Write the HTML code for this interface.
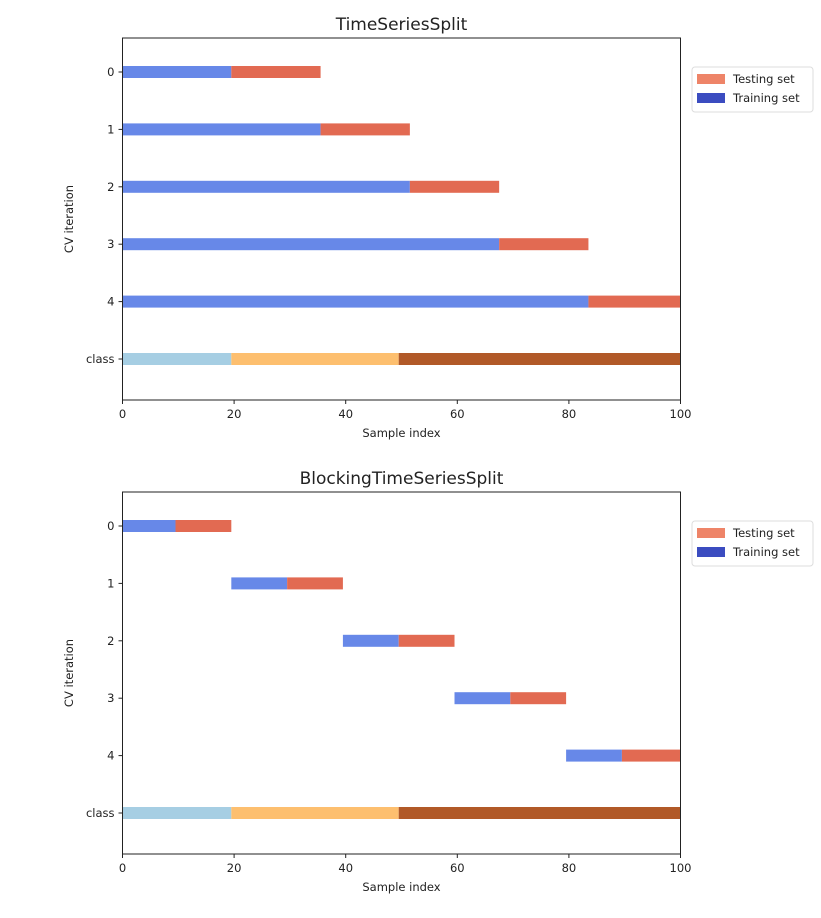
<!DOCTYPE html>
<html><head><meta charset="utf-8"><style>
body{margin:0;background:#fff;font-family:"DejaVu Sans","Liberation Sans",sans-serif}
text{font-family:"DejaVu Sans","Liberation Sans",sans-serif;fill:#222}
</style></head><body>
<svg id="s" width="821" height="914"></svg>
<script>
const rowLabels=["0","1","2","3","4","class"];
const xTicks=[0,20,40,60,80,100];
const topTrain=[[0,19.5],[0,35.5],[0,51.5],[0,67.5],[0,83.5]];
const topTest=[[19.5,35.5],[35.5,51.5],[51.5,67.5],[67.5,83.5],[83.5,100]];
const botTrain=[[0,9.5],[19.5,29.5],[39.5,49.5],[59.5,69.5],[79.5,89.5]];
const botTest=[[9.5,19.5],[29.5,39.5],[49.5,59.5],[69.5,79.5],[89.5,100]];
const classSegs=[[0,19.5],[19.5,49.5],[49.5,100]];
const classColors=["#a6cee3","#fdbf6f","#b15928"];
const NS="http://www.w3.org/2000/svg";
const svg=document.getElementById('s');
function el(t,a,p){const e=document.createElementNS(NS,t);for(const k in a)e.setAttribute(k,a[k]);(p||svg).appendChild(e);return e;}
function panel(title,top,train,test,pname){
  const g=el('g',{});
  
  
  const L=122.5,R=680.5,T=top,B=top+362;
  const x=v=>L+(R-L)*v/100;
  const y=i=>T+34+57.4*i;
  const bh=12;
  function bar(seg,i,c,n){const r=el('rect',{x:x(seg[0]),y:y(i)-bh/2,width:x(seg[1])-x(seg[0]),height:bh,fill:c},g);
    }
  train.forEach((s,i)=>bar(s,i,"#6788e8","train-bar-"+i));
  test.forEach((s,i)=>bar(s,i,"#e26a52","test-bar-"+i));
  classSegs.forEach((s,k)=>bar(s,5,classColors[k],"class-bar-"+k));
  const f=el('rect',{x:L,y:T,width:R-L,height:B-T,fill:'none',stroke:'#222','stroke-width':1},g);
  
  rowLabels.forEach((l,i)=>{el('line',{x1:L-4,x2:L,y1:y(i),y2:y(i),stroke:'#222'},g);
    const t=el('text',{x:L-8,y:y(i)+4,'text-anchor':'end','font-size':11.5},g);t.textContent=l;
    });
  xTicks.forEach(v=>{el('line',{x1:x(v),x2:x(v),y1:B,y2:B+4,stroke:'#222'},g);
    const t=el('text',{x:x(v),y:B+18,'text-anchor':'middle','font-size':11.5},g);t.textContent=v;
    });
  const tt=el('text',{x:(L+R)/2,y:T-8,'text-anchor':'middle','font-size':17},g);tt.textContent=title;
  
  const xl=el('text',{x:(L+R)/2,y:B+37,'text-anchor':'middle','font-size':11.5},g);xl.textContent="Sample index";
  
  const yl=el('text',{x:0,y:0,'text-anchor':'middle','font-size':11.5,transform:`translate(73,${(T+B)/2}) rotate(-90)`},g);yl.textContent="CV iteration";
  
  const lg=el('g',{},g);
  
  el('rect',{x:692,y:T+29,width:121,height:45,rx:3,fill:'#fff',stroke:'#ddd'},lg);
  [["Testing set","#ee8468"],["Training set","#3b4cc0"]].forEach((e,k)=>{
    el('rect',{x:697,y:T+36+k*19,width:28,height:10,fill:e[1]},lg);
    const t=el('text',{x:733,y:T+45+k*19,'font-size':11.5},lg);t.textContent=e[0];
    });
}
panel("TimeSeriesSplit",38,topTrain,topTest,"timeseriessplit-chart");
panel("BlockingTimeSeriesSplit",492,botTrain,botTest,"blocking-timeseriessplit-chart");
</script>
</body></html>
